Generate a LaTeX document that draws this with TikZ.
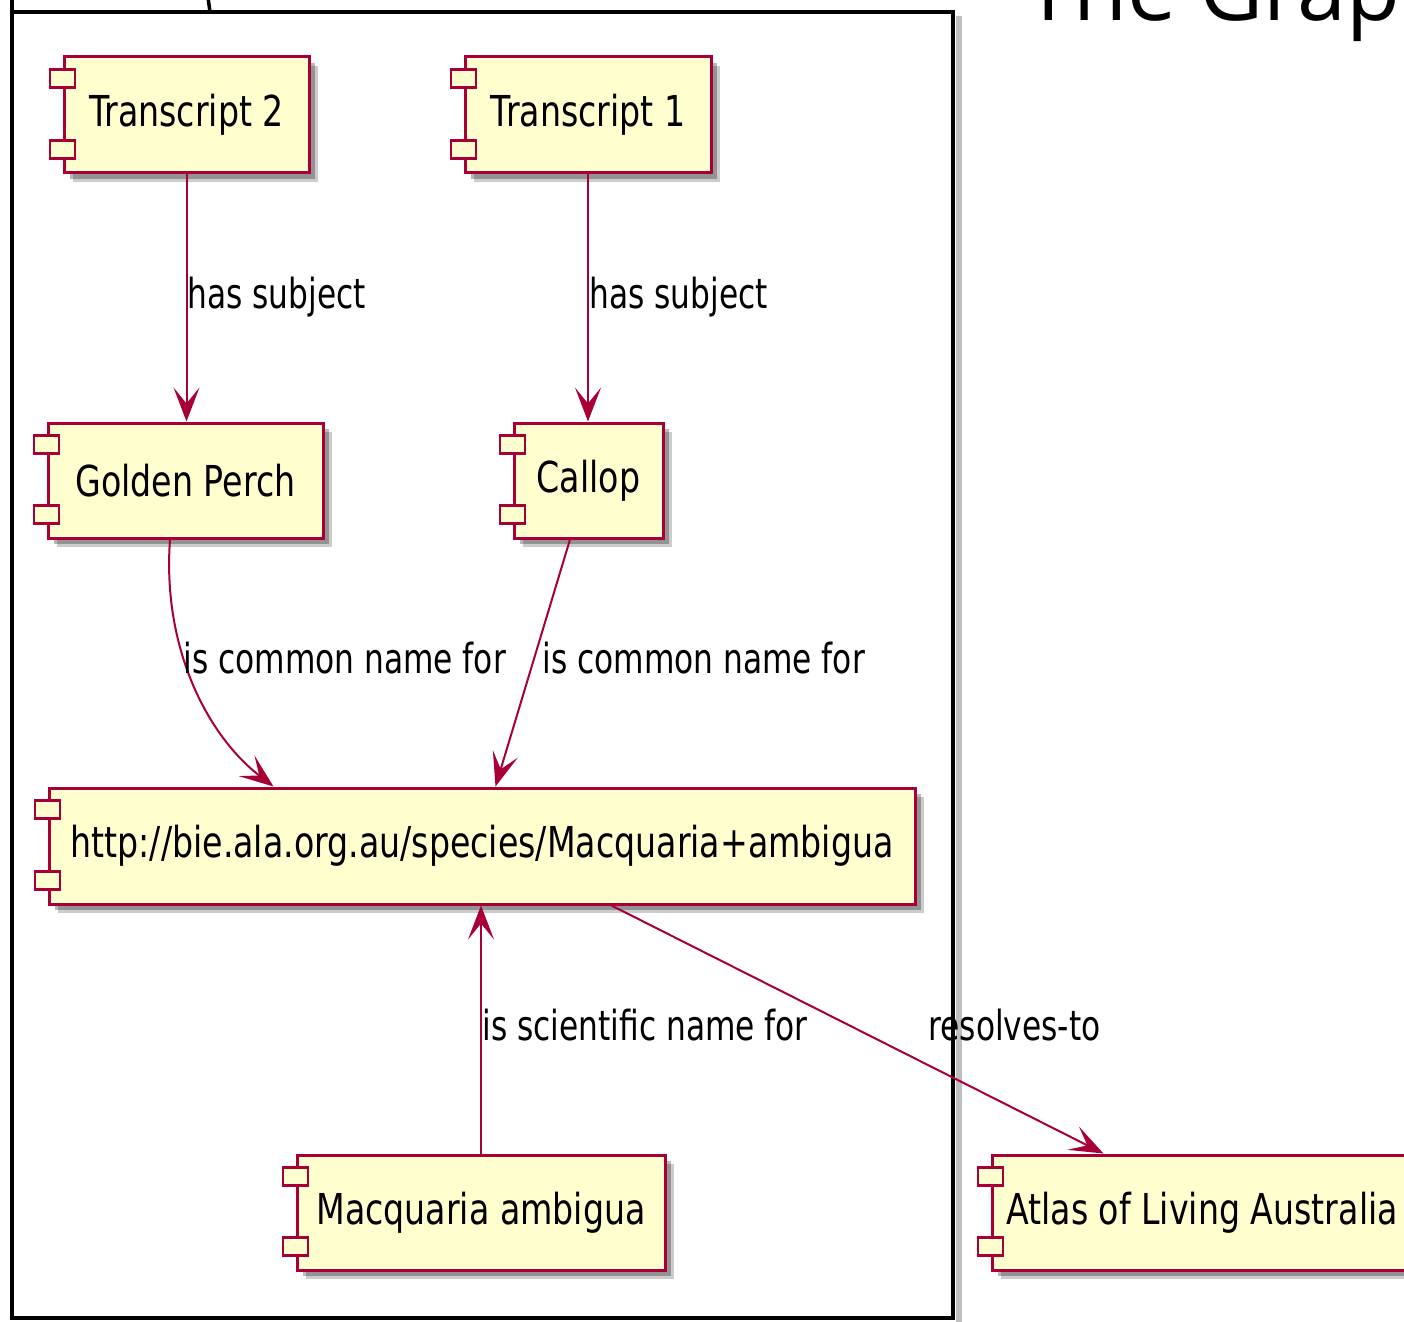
\documentclass[tikz,border=0pt]{standalone}
\usepackage{fontspec}
\usetikzlibrary{arrows.meta,calc,shadows}
\newfontfamily\umlfont{DejaVu Sans}[FakeStretch=0.78]
\newfontfamily\lblfont{DejaVu Sans}[FakeStretch=0.755]
\newfontfamily\titlefont{Open Sans}
\definecolor{umlfill}{HTML}{FEFECE}
\definecolor{umlred}{HTML}{A80036}
\begin{document}
\begin{tikzpicture}[x=0.5pt,y=-0.5pt,
  comp/.style={draw=umlred, fill=umlfill, line width=1.5pt, inner sep=0pt,
    minimum height=58pt, text=black,
    font=\umlfont\fontsize{21.3}{25}\selectfont,
    drop shadow={shadow xshift=4.5pt, shadow yshift=-4.5pt, opacity=0.2, fill=black},
    drop shadow={shadow xshift=3.2pt, shadow yshift=-3.2pt, opacity=0.28, fill=black}},
  icon/.style={draw=umlred, fill=umlfill, line width=1.3pt},
  rel/.style={draw=umlred, line width=1pt, -{Stealth[length=17pt,width=13pt,inset=8pt]}},
  lbl/.style={anchor=base west, inner sep=0pt, text=black,
    font=\lblfont\fontsize{20.7}{24}\selectfont}]
\useasboundingbox (0,0) rectangle (1404,1322);
\fill[white] (0,0) rectangle (1404,1322);
% package frame
\path[fill=black!25] (956,16) rectangle (962,1322);
\draw[line width=1.75pt, fill=white] (12,-10) -- (12,1318) -- (953,1318) -- (953,12) -- (12,12);
\draw[line width=1.75pt] (207,-10) -- (210,12);
% title
\node[anchor=base west, inner sep=0pt, font=\titlefont\fontsize{44}{50}\selectfont] (title) at (1024,21) {The Grap};
% components
\node[comp, minimum width=122.5pt] (t2) at (186.5,115) {Transcript 2};
\node[comp, minimum width=123pt] (t1) at (588,115) {Transcript 1};
\node[comp, minimum width=137.5pt, minimum height=57.5pt] (gp) at (185.5,480.5) {Golden Perch};
\node[comp, minimum width=74.5pt, minimum height=57.5pt] (callop) at (588.5,480.5) {Callop};
\node[comp, minimum width=433pt] (url) at (482,846) {http://bie.ala.org.au/species/Macquaria+ambigua};
\node[comp, minimum width=184pt, minimum height=57.5pt] (mac) at (481,1212.5) {Macquaria ambigua};
\node[comp, minimum width=210pt, minimum height=57.5pt] (atlas) at (1202,1212.5) {Atlas of Living Australia};
% component icons
\foreach \n in {t2,t1,gp,callop,url,mac,atlas}{
  \draw[icon] ($(\n.north west)+(-12.5,14)$) rectangle ++(25,18);
  \draw[icon] ($(\n.south west)+(-12.5,-34)$) rectangle ++(25,18);
}
% connectors
\draw[rel] (t2.south) -- (t2.south |- gp.north);
\draw[rel] (t1.south) -- (t1.south |- callop.north);
\coordinate (gpout) at ($(gp.south)+(-15.5,0)$);
\coordinate (urlinA) at ($(url.north west)+(226,0)$);
\draw[rel] (gpout) .. controls ($(gpout)+(-8,110)$) and ($(urlinA)+(-65,-50)$) .. (urlinA);
\coordinate (callopout) at ($(callop.south)+(-18.5,0)$);
\coordinate (urlinB) at ($(url.north west)+(448,0)$);
\draw[rel] (callopout) -- (urlinB);
\draw[rel] (mac.north) -- (mac.north |- url.south);
\coordinate (urlout) at ($(url.south west)+(564,0)$);
\coordinate (atlasin) at ($(atlas.north west)+(113,0)$);
\draw[rel] (urlout) -- (atlasin);
% labels
\node[lbl] (l1) at (187,308) {has subject};
\node[lbl] (l2) at (589,308) {has subject};
\node[lbl] (l3) at (183,673) {is common name for};
\node[lbl] (l4) at (542,673) {is common name for};
\node[lbl] (l5) at (482,1040) {is scientific name for};
\node[lbl] (l6) at (928,1040) {resolves-to};
\end{tikzpicture}
\end{document}
